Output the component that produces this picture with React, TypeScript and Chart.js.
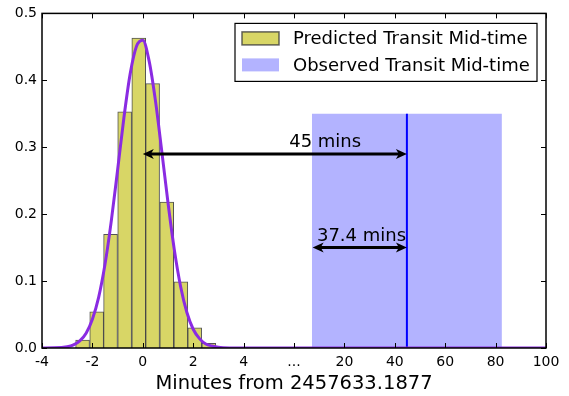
import { useEffect, useRef } from 'react';
import { Chart, registerables } from 'chart.js';

Chart.register(...registerables);

// ---- data ----
const xTickLabels = ['-4', '-2', '0', '2', '4', '...', '20', '40', '60', '80', '100'];
const yTickMax = 0.5;

const binCenters = [-2.39, -1.83, -1.28, -0.72, -0.16, 0.39, 0.95, 1.51, 2.06, 2.62];
const binDensity = [0.012, 0.054, 0.170, 0.353, 0.463, 0.395, 0.218, 0.099, 0.030, 0.007];

const curveX = [-4, -3.5, -3, -2.75, -2.5, -2.25, -2, -1.75, -1.5, -1.25, -1, -0.75, -0.5, -0.25, 0, 0.25, 0.5, 0.75, 1, 1.25, 1.5, 1.75, 2, 2.25, 2.5, 2.75, 3, 3.5, 4];
const curveY = [0, 0.0002, 0.0019, 0.0046, 0.0105, 0.022, 0.043, 0.076, 0.125, 0.19, 0.266, 0.344, 0.41, 0.451, 0.46, 0.429, 0.37, 0.295, 0.217, 0.147, 0.092, 0.053, 0.028, 0.014, 0.006, 0.003, 0.001, 0.0001, 0];

const observedMid = 44.8;
const observedLow = 7.1;
const observedHigh = 82.5;
const observedHeight = 0.35;

const legendLabels = ['Predicted Transit Mid-time', 'Observed Transit Mid-time'];

// arrows: [fromSegment, fromValue, toSegment, toValue, y]
const arrowFromSeg = ['left', 'right'];
const arrowFromVal = [0, 7.4];
const arrowToSeg = ['right', 'right'];
const arrowToVal = [44.8, 44.8];
const arrowY = [0.29, 0.15];

const annotText = ['45 mins', '37.4 mins'];
const annotAxisX = [4.905, 5.455];
const annotY = [0.3, 0.16];

// broken axis mapping: left segment -4..4 -> 0..4, right segment 0..100 -> 5..10
const leftPos = (m: number) => (m + 4) / 2;
const rightPos = (m: number) => 5 + m / 20;
const segPos = (seg: string, v: number) => (seg === 'left' ? leftPos(v) : rightPos(v));
const xAxisMax = xTickLabels.length - 1;

const FONT = '"DejaVu Sans", sans-serif';
const YELLOW = 'rgb(216,214,102)';
const BLUEBAND = 'rgb(179,179,255)';
const PURPLE = 'rgb(138,43,226)';

const decor = {
  id: 'decor',
  afterDatasetsDraw(chart: any) {
    const { ctx, chartArea: a, scales } = chart;
    const xs = scales.x;
    const ys = scales.y;
    ctx.save();

    // arrows
    ctx.strokeStyle = '#000';
    ctx.fillStyle = '#000';
    ctx.lineWidth = 3;
    for (let i = 0; i < arrowY.length; i++) {
      const x1 = xs.getPixelForValue(segPos(arrowFromSeg[i], arrowFromVal[i]));
      const x2 = xs.getPixelForValue(segPos(arrowToSeg[i], arrowToVal[i]));
      const y = ys.getPixelForValue(arrowY[i]);
      ctx.beginPath();
      ctx.moveTo(x1 + 6, y);
      ctx.lineTo(x2 - 6, y);
      ctx.stroke();
      const head = (tip: number, dir: number) => {
        ctx.beginPath();
        ctx.moveTo(tip, y);
        ctx.lineTo(tip + dir * 11, y - 5);
        ctx.lineTo(tip + dir * 8, y);
        ctx.lineTo(tip + dir * 11, y + 5);
        ctx.closePath();
        ctx.fill();
      };
      head(x1, 1);
      head(x2, -1);
    }

    // annotations
    ctx.font = '18px ' + FONT;
    ctx.textBaseline = 'alphabetic';
    ctx.textAlign = 'left';
    for (let i = 0; i < annotText.length; i++) {
      ctx.fillText(annotText[i], xs.getPixelForValue(annotAxisX[i]), ys.getPixelForValue(annotY[i]));
    }

    // inward ticks on all sides
    ctx.lineWidth = 1;
    ctx.beginPath();
    xs.ticks.forEach((_t: any, i: number) => {
      const px = Math.round(xs.getPixelForTick(i)) + 0.5;
      ctx.moveTo(px, a.bottom);
      ctx.lineTo(px, a.bottom - 5);
      ctx.moveTo(px, a.top);
      ctx.lineTo(px, a.top + 5);
    });
    ys.ticks.forEach((_t: any, i: number) => {
      const py = Math.round(ys.getPixelForTick(i)) + 0.5;
      ctx.moveTo(a.left, py);
      ctx.lineTo(a.left + 5, py);
      ctx.moveTo(a.right, py);
      ctx.lineTo(a.right - 5, py);
    });
    ctx.stroke();

    // frame
    ctx.lineWidth = 1.5;
    ctx.strokeRect(a.left, a.top, a.right - a.left, a.bottom - a.top);

    // legend
    const lx = a.right - 311;
    const ly = a.top + 10;
    const lw = 302;
    const lh = 58;
    ctx.fillStyle = '#fff';
    ctx.fillRect(lx, ly, lw, lh);
    ctx.lineWidth = 1.2;
    ctx.strokeStyle = '#000';
    ctx.strokeRect(lx, ly, lw, lh);
    ctx.fillStyle = YELLOW;
    ctx.fillRect(lx + 7, ly + 8.5, 37, 13);
    ctx.strokeStyle = 'rgba(60,60,60,0.8)';
    ctx.lineWidth = 1.5;
    ctx.strokeRect(lx + 7, ly + 8.5, 37, 13);
    ctx.fillStyle = BLUEBAND;
    ctx.fillRect(lx + 7, ly + 35, 37, 13);
    ctx.fillStyle = '#000';
    ctx.font = '18px ' + FONT;
    ctx.fillText(legendLabels[0], lx + 58, ly + 20.7);
    ctx.fillText(legendLabels[1], lx + 58, ly + 47.3);

    ctx.restore();
  },
};

export default function App() {
  const ref = useRef<HTMLCanvasElement | null>(null);
  useEffect(() => {
    if (!ref.current) return;
    const chart = new Chart(ref.current, {
      type: 'bar',
      data: {
        datasets: [
          {
            type: 'line',
            label: 'fit',
            data: [
              ...curveX.map((m, i) => ({ x: leftPos(m), y: curveY[i] })),
              { x: xAxisMax, y: 0 },
            ],
            borderColor: PURPLE,
            borderWidth: 3,
            pointRadius: 0,
            cubicInterpolationMode: 'monotone',
            fill: false,
            order: 0,
          } as any,
          {
            type: 'line',
            label: 'observed',
            data: [
              { x: rightPos(observedMid), y: 0 },
              { x: rightPos(observedMid), y: observedHeight },
            ],
            borderColor: 'rgb(0,0,255)',
            borderWidth: 2,
            pointRadius: 0,
            fill: false,
            order: 0,
          } as any,
          {
            type: 'bar',
            label: legendLabels[0],
            data: binCenters.map((m, i) => ({ x: leftPos(m), y: binDensity[i] })),
            backgroundColor: YELLOW,
            borderColor: 'rgba(40,40,40,0.8)',
            borderWidth: 1,
            barPercentage: 1,
            categoryPercentage: 1,
            order: 1,
          } as any,
          {
            type: 'line',
            label: legendLabels[1],
            data: [
              { x: rightPos(observedLow), y: observedHeight },
              { x: rightPos(observedHigh), y: observedHeight },
            ],
            borderWidth: 0,
            borderColor: 'rgba(0,0,0,0)',
            backgroundColor: BLUEBAND,
            pointRadius: 0,
            fill: 'origin',
            order: 2,
          } as any,
        ],
      },
      options: {
        responsive: false,
        animation: false,
        devicePixelRatio: 1,
        layout: { padding: { left: 0, right: 23, top: 11, bottom: 0 } },
        plugins: { legend: { display: false }, tooltip: { enabled: false } },
        scales: {
          x: {
            type: 'linear',
            min: 0,
            max: xAxisMax,
            offset: false,
            grid: { display: false, drawTicks: false, offset: false },
            border: { display: false },
            ticks: {
              stepSize: 1,
              autoSkip: false,
              maxRotation: 0,
              padding: 6,
              color: '#000',
              font: { family: FONT, size: 14 },
              callback: (v: any) => xTickLabels[Math.round(Number(v))] ?? '',
            },
            title: {
              display: true,
              text: 'Minutes from 2457633.1877',
              color: '#000',
              font: { family: FONT, size: 19.5 },
              padding: { top: 0, bottom: 0 },
            },
            afterFit: (s: any) => {
              s.height = 48;
            },
          },
          y: {
            min: 0,
            max: yTickMax,
            grid: { display: false, drawTicks: false },
            border: { display: false },
            ticks: {
              stepSize: 0.1,
              padding: 5,
              color: '#000',
              font: { family: FONT, size: 14 },
              callback: (v: any) => Number(v).toFixed(1),
            },
            afterFit: (s: any) => {
              s.width = 42;
            },
          },
        },
      },
      plugins: [decor],
    });
    return () => chart.destroy();
  }, []);
  return (
    <div style={{ position: 'fixed', left: 0, top: 0, width: 569, height: 396, background: '#fff' }}>
      <canvas ref={ref} width={569} height={396} style={{ width: 569, height: 396 }} />
    </div>
  );
}
